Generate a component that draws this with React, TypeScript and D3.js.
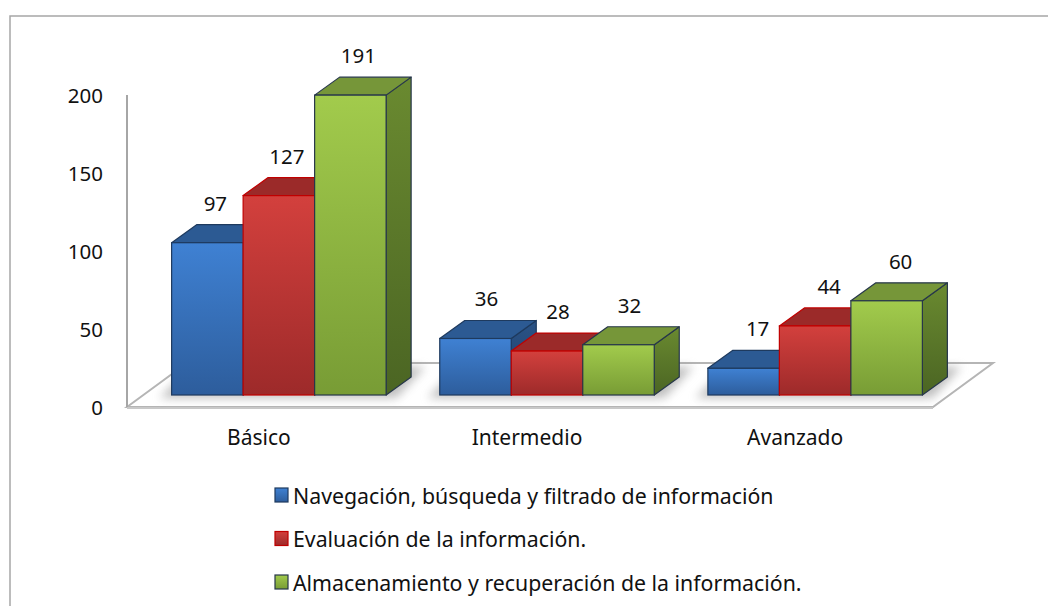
import React from 'react';
import * as d3 from 'd3';

// Chart data
const categories = ['Básico', 'Intermedio', 'Avanzado'];
const seriesNames = [
  'Navegación, búsqueda y filtrado de información',
  'Evaluación de la información.',
  'Almacenamiento y recuperación de la información.',
];
const navegacion = [97, 36, 17];
const evaluacion = [127, 28, 44];
const almacenamiento = [191, 32, 60];
const yTicks = [0, 50, 100, 150, 200];

const seriesValues = [navegacion, evaluacion, almacenamiento];

const palette = [
  { id: 'b', top: '#3f81d3', bottom: '#2d5d9c', cap: '#2c5a93', side1: '#2a5386', side2: '#213f6b', stroke: '#1e3a5e' },
  { id: 'r', top: '#d3403d', bottom: '#9d2a2a', cap: '#9b2a29', side1: '#8a2424', side2: '#6e1c1c', stroke: '#c00000' },
  { id: 'g', top: '#a2cb4c', bottom: '#789c35', cap: '#769639', side1: '#6a8a30', side2: '#4b6523', stroke: '#26364a' },
];

const width = 1048;
const height = 606;
const depth = { dx: 25, dy: -18 };
const floor = { left: 127, right: 933, front: 407, dx: 60, dy: -44 };
const font = "'Noto Sans', 'Open Sans', sans-serif";

const App: React.FC = () => {
  // axis scale (tick labels) and bar scale (front faces sit slightly behind the floor edge)
  const yAxis = d3.scaleLinear().domain([0, 200]).range([407, 95]);
  const yBar = d3.scaleLinear().domain([0, 200]).range([395, 81]);

  const x0 = d3.scaleBand<string>().domain(categories).range([118, 976]).paddingInner(0.2).paddingOuter(0.2);
  const x1 = d3
    .scaleBand<number>()
    .domain(d3.range(seriesValues.length))
    .range([0, x0.bandwidth()]);

  const pts = (p: [number, number][]) => p.map((q) => q.join(',')).join(' ');
  const base = yBar(0);

  const floorPoly: [number, number][] = [
    [floor.left, floor.front],
    [floor.left + floor.dx, floor.front + floor.dy],
    [floor.right + floor.dx, floor.front + floor.dy],
    [floor.right, floor.front],
  ];

  return (
    <svg
      width={width}
      height={height}
      style={{ position: 'fixed', left: 0, top: 0, background: '#fff' }}
    >
      <defs>
        {palette.map((c) => (
          <React.Fragment key={c.id}>
            <linearGradient id={`front-${c.id}`} x1="0" y1="0" x2="0" y2="1">
              <stop offset="0%" stopColor={c.top} />
              <stop offset="100%" stopColor={c.bottom} />
            </linearGradient>
            <linearGradient id={`side-${c.id}`} x1="0" y1="0" x2="0" y2="1">
              <stop offset="0%" stopColor={c.side1} />
              <stop offset="100%" stopColor={c.side2} />
            </linearGradient>
          </React.Fragment>
        ))}
        <filter id="blur" x="-20%" y="-50%" width="140%" height="200%">
          <feGaussianBlur stdDeviation="5" />
        </filter>
      </defs>

      {/* outer frame */}
      <path d={`M10,${height} V16 H${width}`} fill="none" stroke="#a6a6a6" strokeWidth={1.5} />

      {/* floor */}
      <polygon points={pts(floorPoly)} fill="#fff" stroke="#b5b5b5" strokeWidth={2} />
      <line x1={floor.left} x2={floor.right} y1={floor.front + 1} y2={floor.front + 1} stroke="#c8c8c8" strokeWidth={2} />

      {/* shadows under the bar groups */}
      {categories.map((cat) => {
        const gx = x0(cat) as number;
        const w = x0.bandwidth();
        return (
          <polygon
            key={`sh-${cat}`}
            points={pts([
              [gx - 12, base + 3],
              [gx - 12 + depth.dx + 6, base + depth.dy - 10],
              [gx + w + depth.dx + 14, base + depth.dy - 10],
              [gx + w + 10, base + 3],
            ])}
            fill="#8a8a8a"
            opacity={0.55}
            filter="url(#blur)"
          />
        );
      })}

      {/* y axis */}
      <line x1={floor.left} x2={floor.left} y1={yAxis(200)} y2={yAxis(0)} stroke="#a6a6a6" strokeWidth={2} />
      {yTicks.map((t) => (
        <text
          key={t}
          x={103}
          y={yAxis(t)}
          textAnchor="end"
          dominantBaseline="central"
          fontFamily={font}
          fontSize={20.5}
          fill="#111"
        >
          {t}
        </text>
      ))}

      {/* bars */}
      {categories.map((cat, ci) => (
        <g key={cat}>
          {seriesValues.map((vals, si) => {
            const c = palette[si];
            const x = (x0(cat) as number) + (x1(si) as number);
            const w = x1.bandwidth();
            const yt = yBar(vals[ci]);
            const { dx, dy } = depth;
            return (
              <g key={si}>
                <polygon
                  points={pts([
                    [x + w, yt],
                    [x + w + dx, yt + dy],
                    [x + w + dx, base + dy],
                    [x + w, base],
                  ])}
                  fill={`url(#side-${c.id})`}
                  stroke={c.stroke}
                  strokeWidth={1.2}
                  strokeLinejoin="round"
                />
                <polygon
                  points={pts([
                    [x, yt],
                    [x + dx, yt + dy],
                    [x + w + dx, yt + dy],
                    [x + w, yt],
                  ])}
                  fill={c.cap}
                  stroke={c.stroke}
                  strokeWidth={1.2}
                  strokeLinejoin="round"
                />
                <rect
                  x={x}
                  y={yt}
                  width={w}
                  height={base - yt}
                  fill={`url(#front-${c.id})`}
                  stroke={c.stroke}
                  strokeWidth={1.2}
                />
              </g>
            );
          })}
        </g>
      ))}

      {/* data labels */}
      {categories.map((cat, ci) =>
        seriesValues.map((vals, si) => {
          const x = (x0(cat) as number) + (x1(si) as number) + x1.bandwidth() / 2 + 8 + ci * 3;
          return (
            <text
              key={`${cat}-${si}`}
              x={x}
              y={yBar(vals[ci]) - 40}
              textAnchor="middle"
              dominantBaseline="central"
              fontFamily={font}
              fontSize={20.5}
              fill="#111"
            >
              {vals[ci]}
            </text>
          );
        })
      )}

      {/* category labels */}
      {categories.map((cat) => (
        <text
          key={`lab-${cat}`}
          x={(x0(cat) as number) + x0.bandwidth() / 2 - 20}
          y={437}
          textAnchor="middle"
          dominantBaseline="central"
          fontFamily={font}
          fontSize={21}
          fill="#111"
        >
          {cat}
        </text>
      ))}

      {/* legend */}
      {seriesNames.map((name, i) => {
        const c = palette[i];
        const cy = 495 + i * 43.5;
        return (
          <g key={name}>
            <rect x={275} y={cy - 7} width={13} height={14} fill={`url(#front-${c.id})`} stroke={c.stroke} strokeWidth={1.2} />
            <text
              x={293}
              y={cy}
              dominantBaseline="central"
              fontFamily={font}
              fontSize={21.3}
              fill="#111"
            >
              {name}
            </text>
          </g>
        );
      })}
    </svg>
  );
};

export default App;
